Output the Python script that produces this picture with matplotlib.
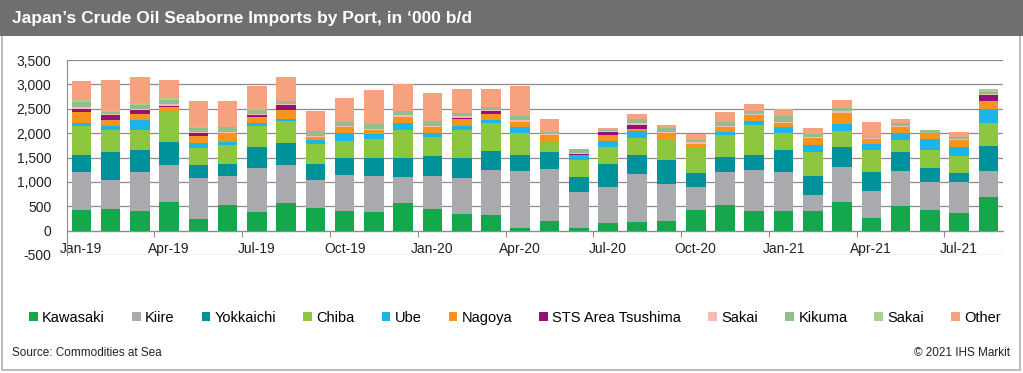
import numpy as np
import matplotlib
matplotlib.use("Agg")
import matplotlib.pyplot as plt
from matplotlib.patches import Rectangle

plt.rcParams['font.family'] = ['Liberation Sans', 'DejaVu Sans']

# Data ('000 b/d), Jan-19 .. Aug-21
months = ["Jan-19", "Feb-19", "Mar-19", "Apr-19", "May-19", "Jun-19", "Jul-19", "Aug-19",
          "Sep-19", "Oct-19", "Nov-19", "Dec-19", "Jan-20", "Feb-20", "Mar-20", "Apr-20",
          "May-20", "Jun-20", "Jul-20", "Aug-20", "Sep-20", "Oct-20", "Nov-20", "Dec-20",
          "Jan-21", "Feb-21", "Mar-21", "Apr-21", "May-21", "Jun-21", "Jul-21", "Aug-21"]

kawasaki = [425, 450, 400, 590, 240, 525, 385, 575, 465, 400, 385, 575, 450, 340, 330, 60,
            205, 55, 165, 185, 200, 425, 525, 400, 400, 400, 590, 260, 505, 425, 370, 685]
kiire = [775, 590, 805, 760, 840, 595, 905, 770, 575, 745, 735, 515, 670, 740, 905, 1170,
         1055, 745, 720, 980, 765, 480, 680, 845, 805, 340, 725, 560, 725, 575, 635, 540]
yokkaichi = [350, 580, 440, 475, 260, 245, 430, 445, 325, 355, 360, 410, 410, 420, 390, 325,
             345, 310, 485, 390, 475, 275, 300, 305, 455, 385, 400, 390, 385, 275, 185, 520]
chiba = [600, 450, 425, 600, 355, 390, 430, 450, 415, 345, 400, 570, 400, 570, 585, 445,
         220, 330, 355, 355, 440, 515, 455, 620, 340, 480, 320, 445, 245, 385, 345, 460]
ube = [50, 80, 190, 0, 105, 70, 55, 55, 80, 155, 95, 135, 70, 80, 50, 125,
       0, 110, 105, 125, 0, 0, 70, 70, 135, 155, 160, 125, 135, 220, 190, 285]
nagoya = [225, 125, 135, 110, 145, 180, 125, 185, 70, 135, 95, 135, 120, 145, 125, 110,
          135, 0, 135, 55, 120, 90, 90, 125, 70, 140, 220, 95, 125, 120, 125, 160]
sts_tsushima = [75, 90, 75, 25, 55, 0, 45, 90, 0, 0, 0, 0, 0, 25, 70, 0,
                0, 25, 50, 85, 0, 0, 0, 0, 0, 0, 0, 0, 0, 0, 0, 125]
sakai = [30, 20, 20, 30, 20, 20, 25, 20, 20, 20, 20, 25, 25, 40, 20, 30,
         20, 20, 20, 30, 20, 30, 30, 25, 30, 25, 30, 20, 20, 0, 20, 20]
kikuma = [100, 50, 90, 95, 85, 95, 75, 60, 100, 65, 100, 80, 95, 50, 70, 80,
          35, 75, 35, 85, 85, 50, 70, 55, 110, 65, 70, 20, 65, 55, 50, 40]
sakai_2 = [40, 25, 40, 45, 25, 10, 20, 0, 0, 0, 0, 0, 0, 0, 0, 0,
           0, 0, 0, 0, 0, 0, 0, 0, 0, 0, 0, 0, 0, 0, 0, 70]
other = [400, 635, 530, 365, 520, 520, 470, 500, 405, 500, 700, 570, 580, 495, 365, 630,
         280, 10, 40, 110, 60, 120, 205, 155, 140, 115, 170, 305, 90, 15, 110, -20]

series = [
    ("Kawasaki", kawasaki, "#12a84b"),
    ("Kiire", kiire, "#a9aaad"),
    ("Yokkaichi", yokkaichi, "#00929a"),
    ("Chiba", chiba, "#8dc63f"),
    ("Ube", ube, "#1cb5ea"),
    ("Nagoya", nagoya, "#f7941d"),
    ("STS Area Tsushima", sts_tsushima, "#93117e"),
    ("Sakai", sakai, "#f5bcb5"),
    ("Kikuma", kikuma, "#93bd8f"),
    ("Sakai", sakai_2, "#a9d18e"),
    ("Other", other, "#f6a27f"),
]

fig = plt.figure(figsize=(10.23, 3.73), dpi=100)

# frame and header band
fig.patches.append(Rectangle((0.002, 0.008), 0.995, 0.99, transform=fig.transFigure,
                             facecolor="white", edgecolor="#b0b0b0", lw=1.2, zorder=-2))
fig.patches.append(Rectangle((0.0, 1 - 36 / 373), 1.0, 36 / 373, transform=fig.transFigure,
                             facecolor="#6f6f6f", edgecolor="none", zorder=-1))
fig.text(12 / 1023, 1 - 19 / 373, "Japan\u2019s Crude Oil Seaborne Imports by Port, in \u2018000 b/d",
         color="white", fontsize=12.5, fontweight="bold", va="center", ha="left")

ax = fig.add_axes([66.7 / 1023, 1 - 255 / 373, (1003 - 66.7) / 1023, (255 - 60) / 373])

x = np.arange(len(months))
pos_bottom = np.zeros(len(months))
neg_bottom = np.zeros(len(months))
handles = []
for name, vals, col in series:
    v = np.array(vals, dtype=float)
    bottom = np.where(v >= 0, pos_bottom, neg_bottom)
    b = ax.bar(x, v, 0.67, bottom=bottom, color=col, label=name, zorder=3)
    handles.append(b)
    pos_bottom += np.where(v >= 0, v, 0)
    neg_bottom += np.where(v < 0, v, 0)

ax.set_xlim(-0.5, len(months) - 0.5)
ax.set_ylim(-500, 3500)
ax.set_yticks(np.arange(-500, 3501, 500))
ax.set_yticklabels([f"{v:,}" for v in range(-500, 3501, 500)])
ax.yaxis.grid(True, color="#8c8c8c", lw=0.9, zorder=0)
ax.set_axisbelow(True)

for s in ["top", "right"]:
    ax.spines[s].set_visible(False)
ax.spines["left"].set_color("#8c8c8c")
ax.spines["bottom"].set_position(("data", 0))
ax.spines["bottom"].set_color("#8c8c8c")
ax.spines["bottom"].set_zorder(4)

ax.set_xticks(np.arange(2.5, len(months), 3))
ax.set_xticklabels([])
ax.set_xticks(np.arange(0, len(months), 3), minor=True)
ax.set_xticklabels(months[::3], minor=True)
ax.tick_params(axis="x", which="major", length=4, color="#8c8c8c", direction="out")
ax.tick_params(axis="x", which="minor", length=0, pad=8, labelsize=10, labelcolor="#222222")
ax.tick_params(axis="y", length=0, pad=11, labelsize=10, labelcolor="#222222")

fig.legend(handles=handles, loc="center", bbox_to_anchor=(515 / 1023, 1 - 318 / 373), ncol=11,
           frameon=False, fontsize=10.5, handlelength=0.6, handleheight=0.6, handletextpad=0.3,
           columnspacing=1.85, borderaxespad=0)

fig.text(12 / 1023, 1 - 353 / 373, "Source: Commodities at Sea", fontsize=8.5, va="center",
         ha="left", color="#222222")
fig.text(1010 / 1023, 1 - 353 / 373, "\u00a9 2021 IHS Markit", fontsize=8.5, va="center",
         ha="right", color="#222222")

fig.savefig("out.png", dpi=100)
